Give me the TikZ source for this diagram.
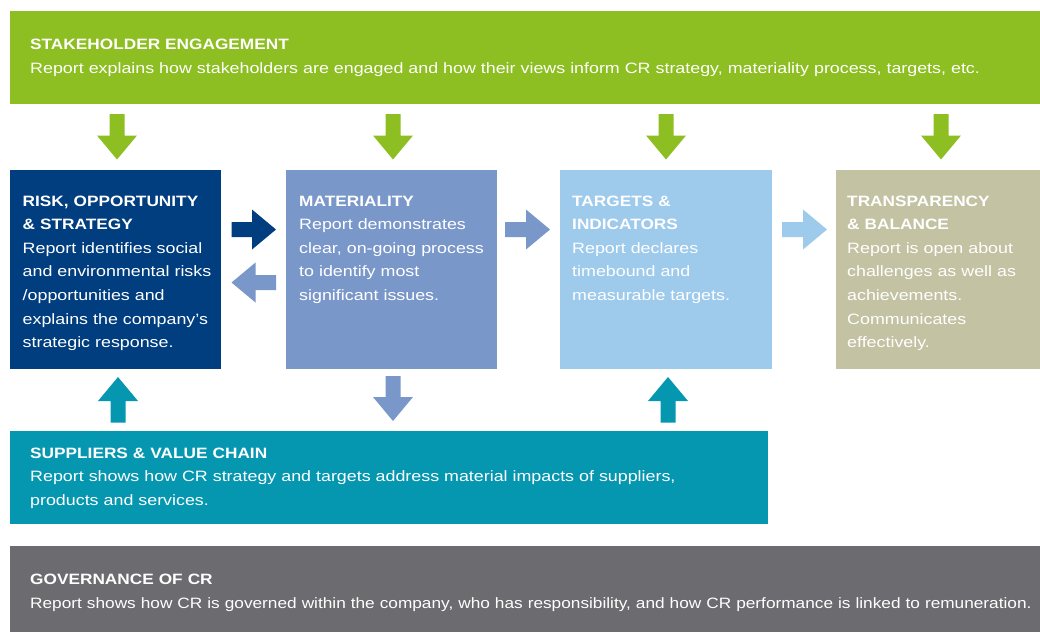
\documentclass[tikz,border=0pt]{standalone}
\usepackage{fontspec}
\setmainfont{Liberation Sans}[UprightFeatures={FakeStretch=1.19},
  BoldFeatures={FakeStretch=1.15}]
\newfontfamily\narrowfont{Liberation Sans}[FakeStretch=1.15]
\usetikzlibrary{calc}

\definecolor{segreen}{RGB}{141,190,34}
\definecolor{riskblue}{RGB}{0,62,128}
\definecolor{matblue}{RGB}{122,151,202}
\definecolor{tgtblue}{RGB}{158,202,236}
\definecolor{khaki}{RGB}{195,194,163}
\definecolor{suppteal}{RGB}{6,151,176}
\definecolor{govgray}{RGB}{107,107,112}

% Block arrow from #2 to #3 in colour #1: 15pt shaft, 40pt wide and 24pt long head
\newcommand\blockarrow[3]{%
  \coordinate (ba-c) at ($(#3)!24pt!(#2)$);
  \fill[#1] ($(#2)!7.5pt!90:(#3)$) -- ($(ba-c)!7.5pt!90:(#3)$)
    -- ($(ba-c)!20pt!90:(#3)$) -- (#3) -- ($(ba-c)!20pt!-90:(#3)$)
    -- ($(ba-c)!7.5pt!-90:(#3)$) -- ($(#2)!7.5pt!-90:(#3)$) -- cycle;
}

\begin{document}
\begin{tikzpicture}[x=1pt,y=-1pt,
  box/.style 2 args={anchor=north west, inner sep=0pt, outer sep=0pt,
    minimum width=#1pt, minimum height=#2pt},
  txt/.style={anchor=base west, inner sep=0pt, text=white, align=left,
    text width=#1pt, font=\fontsize{15}{23.6}\selectfont},
]
\useasboundingbox (0,0) rectangle (1040,632);

% boxes
\node[box={1030}{93}, fill=segreen]   (se)    at (10,11)    {};
\node[box={211}{199}, fill=riskblue]  (risk)  at (10,170)   {};
\node[box={211.5}{199}, fill=matblue] (mat)   at (285.5,170) {};
\node[box={212.5}{199}, fill=tgtblue] (tgt)   at (559.5,170) {};
\node[box={204.5}{199}, fill=khaki]   (trans) at (835.5,170) {};
\node[box={758}{93}, fill=suppteal]   (supp)  at (10,431)   {};
\node[box={1030}{86}, fill=govgray]   (gov)   at (10,546)   {};

% texts
\node[txt=1010] (se-t) at ($(se.north west)+(20,38.5)$)
  {\textbf{STAKEHOLDER ENGAGEMENT}\\
   Report explains how stakeholders are engaged and how their views inform CR strategy, materiality process, targets, etc.};
\node[txt=200] (risk-t) at ($(risk.north west)+(12.5,36)$)
  {\textbf{RISK, OPPORTUNITY}\\\textbf{\& STRATEGY}\\
   Report identifies social\\and environmental risks\\/opportunities and\\explains the company’s\\strategic response.};
\node[txt=200] (mat-t) at ($(mat.north west)+(13.5,36)$)
  {\textbf{MATERIALITY}\\
   Report demonstrates\\clear, on-going process\\to identify most\\significant issues.};
\node[txt=200] (tgt-t) at ($(tgt.north west)+(12.5,36)$)
  {\textbf{TARGETS \&}\\\textbf{INDICATORS}\\
   Report declares\\timebound and\\measurable targets.};
\node[txt=195] (trans-t) at ($(trans.north west)+(11.5,36)$)
  {\textbf{TRANSPARENCY}\\\textbf{\& BALANCE}\\
   Report is open about\\challenges as well as\\achievements.\\Communicates\\effectively.};
\node[txt=740] (supp-t) at ($(supp.north west)+(20,27)$)
  {\textbf{SUPPLIERS \& VALUE CHAIN}\\
   Report shows how CR strategy and targets address material impacts of suppliers,\\
   products and services.};
\node[txt=1015] (gov-t) at ($(gov.north west)+(20,38.5)$)
  {\textbf{GOVERNANCE OF CR}\\
   {\narrowfont Report shows how CR is governed within the company, who has responsibility, and how CR performance is linked to remuneration.}};

% arrow end points
\coordinate (g1s) at ($(se.south -| risk.north west)+(107,10)$);
\coordinate (g1e) at ($(risk.north west)+(107,-10.5)$);
\coordinate (g2s) at ($(se.south -| mat.north west)+(107.5,10)$);
\coordinate (g2e) at ($(mat.north west)+(107.5,-10.5)$);
\coordinate (g3s) at ($(se.south -| tgt.north west)+(106.5,10)$);
\coordinate (g3e) at ($(tgt.north west)+(106.5,-10.5)$);
\coordinate (g4s) at ($(se.south -| trans.north west)+(105.5,10)$);
\coordinate (g4e) at ($(trans.north west)+(105.5,-10.5)$);

\coordinate (r1s) at ($(risk.north east)+(10.5,59.5)$);
\coordinate (r1e) at ($(mat.north west)+(-9.5,59.5)$);
\coordinate (l1s) at ($(mat.north west)+(-9.5,112.5)$);
\coordinate (l1e) at ($(risk.north east)+(10.5,112.5)$);
\coordinate (r2s) at ($(mat.north east)+(8,59.5)$);
\coordinate (r2e) at ($(tgt.north west)+(-9.5,59.5)$);
\coordinate (r3s) at ($(tgt.north east)+(10,59.5)$);
\coordinate (r3e) at ($(trans.north west)+(-8.5,59.5)$);

\coordinate (u1s) at ($(supp.north west)+(108,-8.5)$);
\coordinate (u1e) at ($(risk.south west)+(108,8)$);
\coordinate (d1s) at ($(mat.south west)+(107.5,7)$);
\coordinate (d1e) at ($(supp.north west)+(383,-10)$);
\coordinate (u2s) at ($(supp.north west)+(658,-8.5)$);
\coordinate (u2e) at ($(tgt.south west)+(108.5,8)$);

% arrows
\blockarrow{segreen}{g1s}{g1e}
\blockarrow{segreen}{g2s}{g2e}
\blockarrow{segreen}{g3s}{g3e}
\blockarrow{segreen}{g4s}{g4e}
\blockarrow{riskblue}{r1s}{r1e}
\blockarrow{matblue}{l1s}{l1e}
\blockarrow{matblue}{r2s}{r2e}
\blockarrow{tgtblue}{r3s}{r3e}
\blockarrow{suppteal}{u1s}{u1e}
\blockarrow{matblue}{d1s}{d1e}
\blockarrow{suppteal}{u2s}{u2e}
\end{tikzpicture}
\end{document}
